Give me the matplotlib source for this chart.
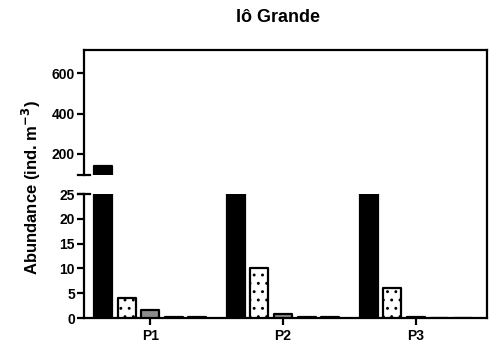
import numpy as np
import matplotlib
matplotlib.use("Agg")
import matplotlib.pyplot as plt

plt.rcParams['font.family'] = ['Liberation Sans', 'DejaVu Sans']
plt.rcParams['font.weight'] = 'bold'
plt.rcParams['hatch.linewidth'] = 0.9

sites = ["P1", "P2", "P3"]
black_vals = [140, 55, 45]
dotted_vals = [4.0, 10.0, 6.0]
gray_vals = [1.6, 0.8, 0.15]
s4_vals = [0.25, 0.3, 0.0]
s5_vals = [0.2, 0.2, 0.0]

series = [
    (black_vals, "black", None),
    (dotted_vals, "white", ".."),
    (gray_vals, "#8c8c8c", None),
    (s4_vals, "white", None),
    (s5_vals, "white", None),
]

W, H = 500, 353
fig = plt.figure(figsize=(5.0, 3.53), dpi=100)

def box(x0, y0, x1, y1):
    return [x0 / W, 1 - y1 / H, (x1 - x0) / W, (y1 - y0) / H]

xl, xr = 84, 487
frame = fig.add_axes(box(xl, 50, xr, 318), zorder=0)
frame.set_xticks([]); frame.set_yticks([])
for s in ["left", "bottom"]:
    frame.spines[s].set_visible(False)
for s in ["top", "right"]:
    frame.spines[s].set_linewidth(1.6)
frame.patch.set_alpha(0)

ax_top = fig.add_axes(box(xl, 50, xr, 175), zorder=2)
ax_bot = fig.add_axes(box(xl, 194, xr, 318), zorder=2)

x = np.arange(len(sites))
offsets = np.array([-2, -1, 0, 1, 2]) * 0.1775
width = 0.135

for ax in (ax_top, ax_bot):
    ax.patch.set_alpha(0)
    for (vals, fc, hatch), off in zip(series, offsets):
        ax.bar(x + off, vals, width=width, color=fc, edgecolor="black",
               linewidth=1.6, hatch=hatch, joinstyle="round", zorder=3)
    ax.set_xlim(-0.498, 2.535)
    ax.spines["top"].set_visible(False)
    ax.spines["right"].set_visible(False)
    ax.spines["left"].set_linewidth(1.6)
    ax.spines["bottom"].set_linewidth(1.6)
    ax.tick_params(axis="both", width=1.6, length=5, labelsize=10, pad=1.5)

ax_top.set_ylim(96, 714)
ax_top.set_yticks([200, 400, 600])
ax_top.spines["bottom"].set_visible(False)
ax_top.set_xticks([])

ax_bot.set_ylim(0, 25)
ax_bot.set_yticks([0, 5, 10, 15, 20, 25])
ax_bot.set_xticks(x)
ax_bot.set_xticklabels(sites, fontsize=10, fontweight="bold")
ax_bot.tick_params(axis="x", pad=3)

for lab in ax_top.get_yticklabels() + ax_bot.get_yticklabels():
    lab.set_fontweight("bold")

d = 6 / (xr - xl)
ax_top.plot([-d, d], [0, 0], transform=ax_top.transAxes, color="black",
            lw=1.6, clip_on=False, zorder=5)
ax_bot.plot([-d, d], [1, 1], transform=ax_bot.transAxes, color="black",
            lw=1.6, clip_on=False, zorder=5)

fig.text(278 / W, 1 - 18 / H, "Iô Grande", ha="center", va="center",
         fontsize=13, fontweight="bold")
fig.text(31 / W, 1 - 188 / H, "Abundance (ind. m$^{\\mathbf{-3}}$)", rotation=90,
         ha="center", va="center", fontsize=12, fontweight="bold")

fig.savefig("out.png", dpi=100)
